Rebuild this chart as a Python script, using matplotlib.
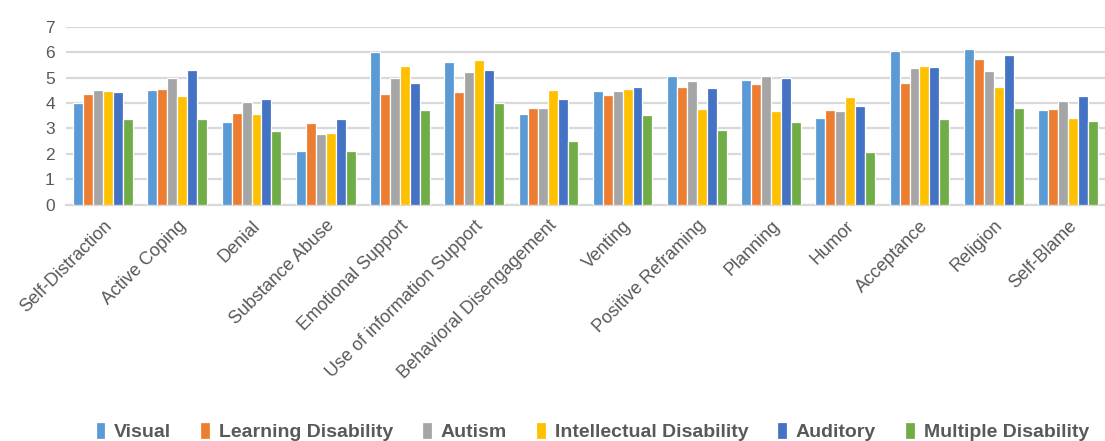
import numpy as np
import matplotlib
matplotlib.use('Agg')
import matplotlib.pyplot as plt

plt.rcParams['font.family'] = ['Liberation Sans', 'DejaVu Sans']

# Data
categories = ['Self-Distraction', 'Active Coping', 'Denial', 'Substance Abuse',
              'Emotional Support', 'Use of information Support',
              'Behavioral Disengagement', 'Venting', 'Positive Reframing',
              'Planning', 'Humor', 'Acceptance', 'Religion', 'Self-Blame']

visual = [4.01, 4.53, 3.24, 2.10, 6.02, 5.61, 3.56, 4.48, 5.06, 4.90, 3.40, 6.07, 6.12, 3.72]
learning = [4.36, 4.57, 3.62, 3.22, 4.36, 4.45, 3.80, 4.33, 4.65, 4.75, 3.72, 4.79, 5.75, 3.76]
autism = [4.50, 4.99, 4.03, 2.78, 4.99, 5.24, 3.80, 4.47, 4.85, 5.08, 3.68, 5.37, 5.25, 4.07]
intellectual = [4.47, 4.27, 3.56, 2.81, 5.45, 5.70, 4.50, 4.57, 3.76, 3.68, 4.22, 5.45, 4.62, 3.40]
auditory = [4.43, 5.29, 4.15, 3.36, 4.81, 5.31, 4.15, 4.62, 4.58, 5.00, 3.87, 5.42, 5.88, 4.29]
multiple = [3.36, 3.36, 2.89, 2.11, 3.72, 3.99, 2.50, 3.52, 2.93, 3.24, 2.08, 3.36, 3.80, 3.30]

series_names = ['Visual', 'Learning Disability', 'Autism', 'Intellectual Disability',
                'Auditory', 'Multiple Disability']
series = [visual, learning, autism, intellectual, auditory, multiple]
colors = ['#5B9BD5', '#ED7D31', '#A5A5A5', '#FFC000', '#4472C4', '#70AD47']

text_gray = '#595959'
grid_gray = '#D9D9D9'

fig = plt.figure(figsize=(11.05, 4.41), dpi=100)
ax = fig.add_axes([0.0597, 0.536, 0.9403, 0.403])

x = np.arange(len(categories))
slot = 0.134
for i, (name, vals, c) in enumerate(zip(series_names, series, colors)):
    offset = (i - 2.5) * slot
    ax.bar(x + offset, vals, width=slot, color=c, edgecolor='white',
           linewidth=0.9, label=name, zorder=3)

ax.set_xlim(-0.5, len(categories) - 0.5)
ax.set_ylim(0, 7)
ax.set_yticks(range(0, 8))
ax.yaxis.grid(True, color=grid_gray, linewidth=1.6, zorder=0)
ax.tick_params(axis='y', length=0, labelsize=12.5, labelcolor=text_gray, pad=8)
ax.tick_params(axis='x', length=0, labelsize=13, labelcolor=text_gray, pad=9)

for side in ['top', 'right', 'left']:
    ax.spines[side].set_visible(False)
ax.spines['bottom'].set_color(grid_gray)
ax.spines['bottom'].set_linewidth(1.6)

ax.set_xticks(x)
ax.set_xticklabels(categories, rotation=45, ha='right', rotation_mode='anchor')

leg = fig.legend(loc='lower center', bbox_to_anchor=(0.536, -0.04), ncol=6,
                 frameon=False, handlelength=0.5, handleheight=0.9,
                 handletextpad=0.45, columnspacing=1.5,
                 prop={'size': 14, 'weight': 'bold'})
for t in leg.get_texts():
    t.set_color(text_gray)

fig.savefig('out.png', dpi=100)
